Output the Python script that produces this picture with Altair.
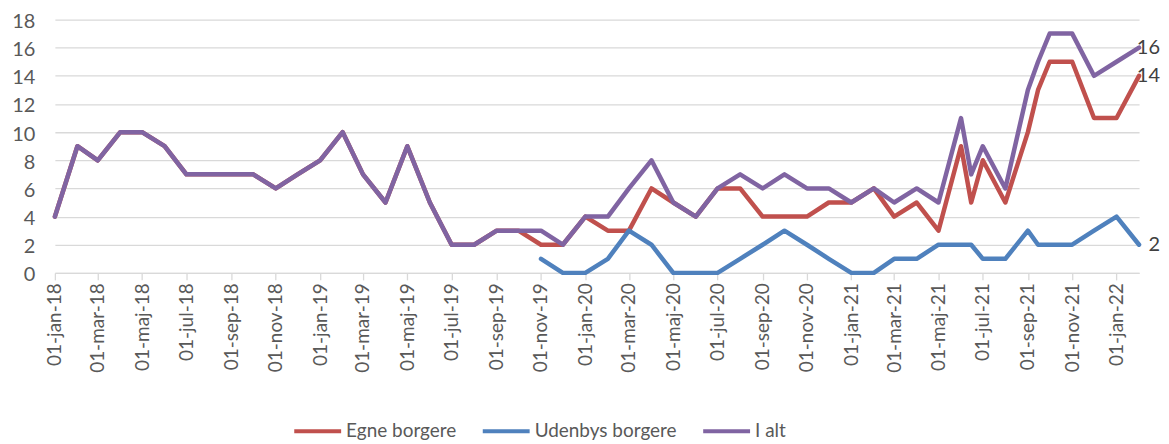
import altair as alt
import pandas as pd

dates = [
    "2018-01-01", "2018-02-01", "2018-03-01", "2018-04-01", "2018-05-01", "2018-06-01",
    "2018-07-01", "2018-08-01", "2018-09-01", "2018-10-01", "2018-11-01", "2018-12-01",
    "2019-01-01", "2019-02-01", "2019-03-01", "2019-04-01", "2019-05-01", "2019-06-01",
    "2019-07-01", "2019-08-01", "2019-09-01", "2019-10-01", "2019-11-01", "2019-12-01",
    "2020-01-01", "2020-02-01", "2020-03-01", "2020-04-01", "2020-05-01", "2020-06-01",
    "2020-07-01", "2020-08-01", "2020-09-01", "2020-10-01", "2020-11-01", "2020-12-01",
    "2021-01-01", "2021-02-01", "2021-03-01", "2021-04-01", "2021-05-01", "2021-06-01",
    "2021-06-15", "2021-07-01", "2021-08-01", "2021-09-01", "2021-09-15", "2021-10-01",
    "2021-11-01", "2021-12-01",
    "2022-01-01", "2022-02-01",
]

egne = [
    4, 9, 8, 10, 10, 9, 7, 7, 7, 7, 6, 7,
    8, 10, 7, 5, 9, 5, 2, 2, 3, 3, 2, 2,
    4, 3, 3, 6, 5, 4, 6, 6, 4, 4, 4, 5,
    5, 6, 4, 5, 3, 9, 5, 8, 5, 10, 13, 15, 15, 11,
    11, 14,
]

udenbys = [
    None, None, None, None, None, None, None, None, None, None, None, None,
    None, None, None, None, None, None, None, None, None, None, 1, 0,
    0, 1, 3, 2, 0, 0, 0, 1, 2, 3, 2, 1,
    0, 0, 1, 1, 2, 2, 2, 1, 1, 3, 2, 2, 2, 3,
    4, 2,
]

i_alt = [
    4, 9, 8, 10, 10, 9, 7, 7, 7, 7, 6, 7,
    8, 10, 7, 5, 9, 5, 2, 2, 3, 3, 3, 2,
    4, 4, 6, 8, 5, 4, 6, 7, 6, 7, 6, 6,
    5, 6, 5, 6, 5, 11, 7, 9, 6, 13, 15, 17, 17, 14,
    15, 16,
]

y_ticks = [0, 2, 4, 6, 8, 10, 12, 14, 16, 18]

series_names = ["Egne borgere", "Udenbys borgere", "I alt"]
series_colors = ["#C0504D", "#4F81BD", "#8064A2"]

rows = []
for name, vals in zip(series_names, [egne, udenbys, i_alt]):
    for d, v in zip(dates, vals):
        if v is not None:
            rows.append({"dato": d, "serie": name, "antal": v})
df = pd.DataFrame(rows)
last_df = df[df["dato"] == dates[-1]]

tick_dates = [alt.DateTime(year=y, month=m, date=1, utc=True)
              for y in [2018, 2019, 2020, 2021] for m in [1, 3, 5, 7, 9, 11]]
tick_dates.append(alt.DateTime(year=2022, month=1, date=1, utc=True))

FONT = "Lato"
label_expr = ("'01-' + ['jan','feb','mar','apr','maj','jun','jul','aug','sep','okt','nov','dec']"
              "[utcmonth(datum.value)] + '-' + utcFormat(datum.value, '%y')")

x_scale = alt.Scale(
    type="utc",
    domain=[alt.DateTime(year=2018, month=1, date=1, utc=True),
            alt.DateTime(year=2022, month=2, date=1, utc=True)],
)
y_scale = alt.Scale(domain=[0, 18], nice=False)

x_enc = alt.X(
    "dato:T",
    scale=x_scale,
    axis=alt.Axis(
        values=tick_dates,
        labelExpr=label_expr,
        labelAngle=-90,
        labelFontSize=19,
        labelFont=FONT,
        labelColor="#595959",
        labelPadding=3,
        labelOverlap=False,
        labelFlush=False,
        grid=False,
        domain=True,
        domainColor="#d9d9d9",
        domainWidth=1.3,
        ticks=True,
        tickColor="#d9d9d9",
        tickSize=7,
        tickWidth=1.3,
        title=None,
    ),
)

y_enc = alt.Y(
    "antal:Q",
    scale=y_scale,
    axis=alt.Axis(
        values=y_ticks,
        labelFontSize=20,
        labelFont=FONT,
        labelColor="#595959",
        labelPadding=20,
        labelOffset=2,
        labelOverlap=False,
        labelFlush=False,
        grid=True,
        gridColor="#d9d9d9",
        gridWidth=1.3,
        domain=False,
        ticks=False,
        title=None,
    ),
)

lines = alt.Chart(df).mark_line(
    strokeWidth=4.5, strokeJoin="round", strokeCap="round"
).encode(
    x=x_enc,
    y=y_enc,
    color=alt.Color(
        "serie:N",
        scale=alt.Scale(domain=series_names, range=series_colors),
        legend=alt.Legend(
            title=None,
            orient="none",
            direction="horizontal",
            legendX=238,
            legendY=387,
            symbolType="stroke",
            symbolSize=2209,
            symbolStrokeWidth=4,
            labelFontSize=19,
            labelFont=FONT,
            labelColor="#595959",
            labelOffset=3,
            columnPadding=18,
        ),
    ),
    detail="serie:N",
)

labels = alt.Chart(last_df).mark_text(
    align="right", baseline="middle", dx=21, fontSize=20, font=FONT, color="#404040"
).encode(
    x=x_enc,
    y=y_enc,
    text=alt.Text("antal:Q"),
)

chart = alt.layer(lines, labels).properties(
    width=1087,
    height=254,
    autosize=alt.AutoSizeParams(type="none"),
    padding={"left": 47, "top": 11, "right": 22, "bottom": 172},
).configure_view(stroke=None)

chart.save("out.html", embed_options={"renderer": "svg", "actions": False})
